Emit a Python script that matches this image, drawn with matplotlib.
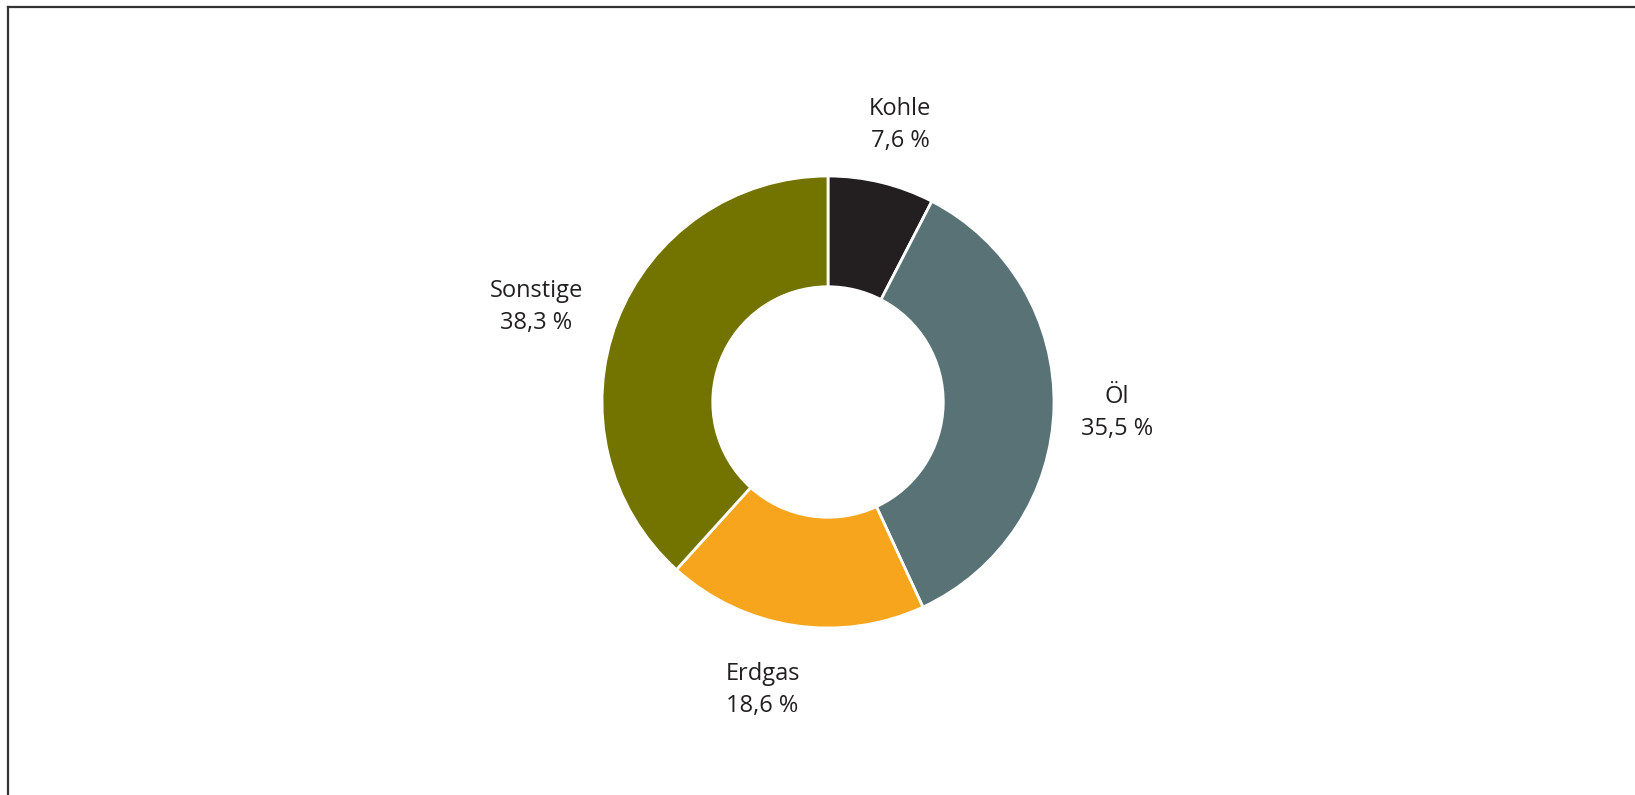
import numpy as np
import matplotlib.pyplot as plt
from matplotlib.lines import Line2D

# Anteile am Energieverbrauch
categories = ['Kohle', 'Öl', 'Erdgas', 'Sonstige']
shares = [7.6, 35.5, 18.6, 38.3]
colors = ['#231f20', '#587276', '#f7a51c', '#737300']

W, H = 1635, 795
fig = plt.figure(figsize=(W / 100, H / 100), dpi=100)
ax = fig.add_axes([0, 0, 1, 1])
ax.set_xlim(0, W)
ax.set_ylim(0, H)
ax.set_aspect('equal')
ax.axis('off')

cx, cy = 828, H - 402
R = 226
labels = [f"{c}\n{str(v).replace('.', ',')} %" for c, v in zip(categories, shares)]

wedges, texts = ax.pie(shares, colors=colors, startangle=90, counterclock=False,
                       center=(cx, cy), radius=R, labels=labels, labeldistance=1.28,
                       wedgeprops=dict(width=R * 0.49, edgecolor='white', linewidth=2),
                       textprops=dict(fontsize=17, color='#231f20', family='Open Sans',
                                      linespacing=1.45))
# kleine Verschiebungen der Beschriftungen wie im Original
nudge = [(4, -4), (0, -5), (-22, -2), (-22, -9)]
for t, (dx, dy) in zip(texts, nudge):
    x, y = t.get_position()
    t.set_position((x + dx, y + dy))
    t.set_ha('center')
    t.set_va('center')

ax.set_xlim(0, W)
ax.set_ylim(0, H)

# Rahmen oben und links
fig.add_artist(Line2D([8 / W, 1], [1 - 7 / H, 1 - 7 / H], color='#333333', lw=1.6))
fig.add_artist(Line2D([8 / W, 8 / W], [0, 1 - 7 / H], color='#333333', lw=1.6))

fig.savefig('out.png', dpi=100)
